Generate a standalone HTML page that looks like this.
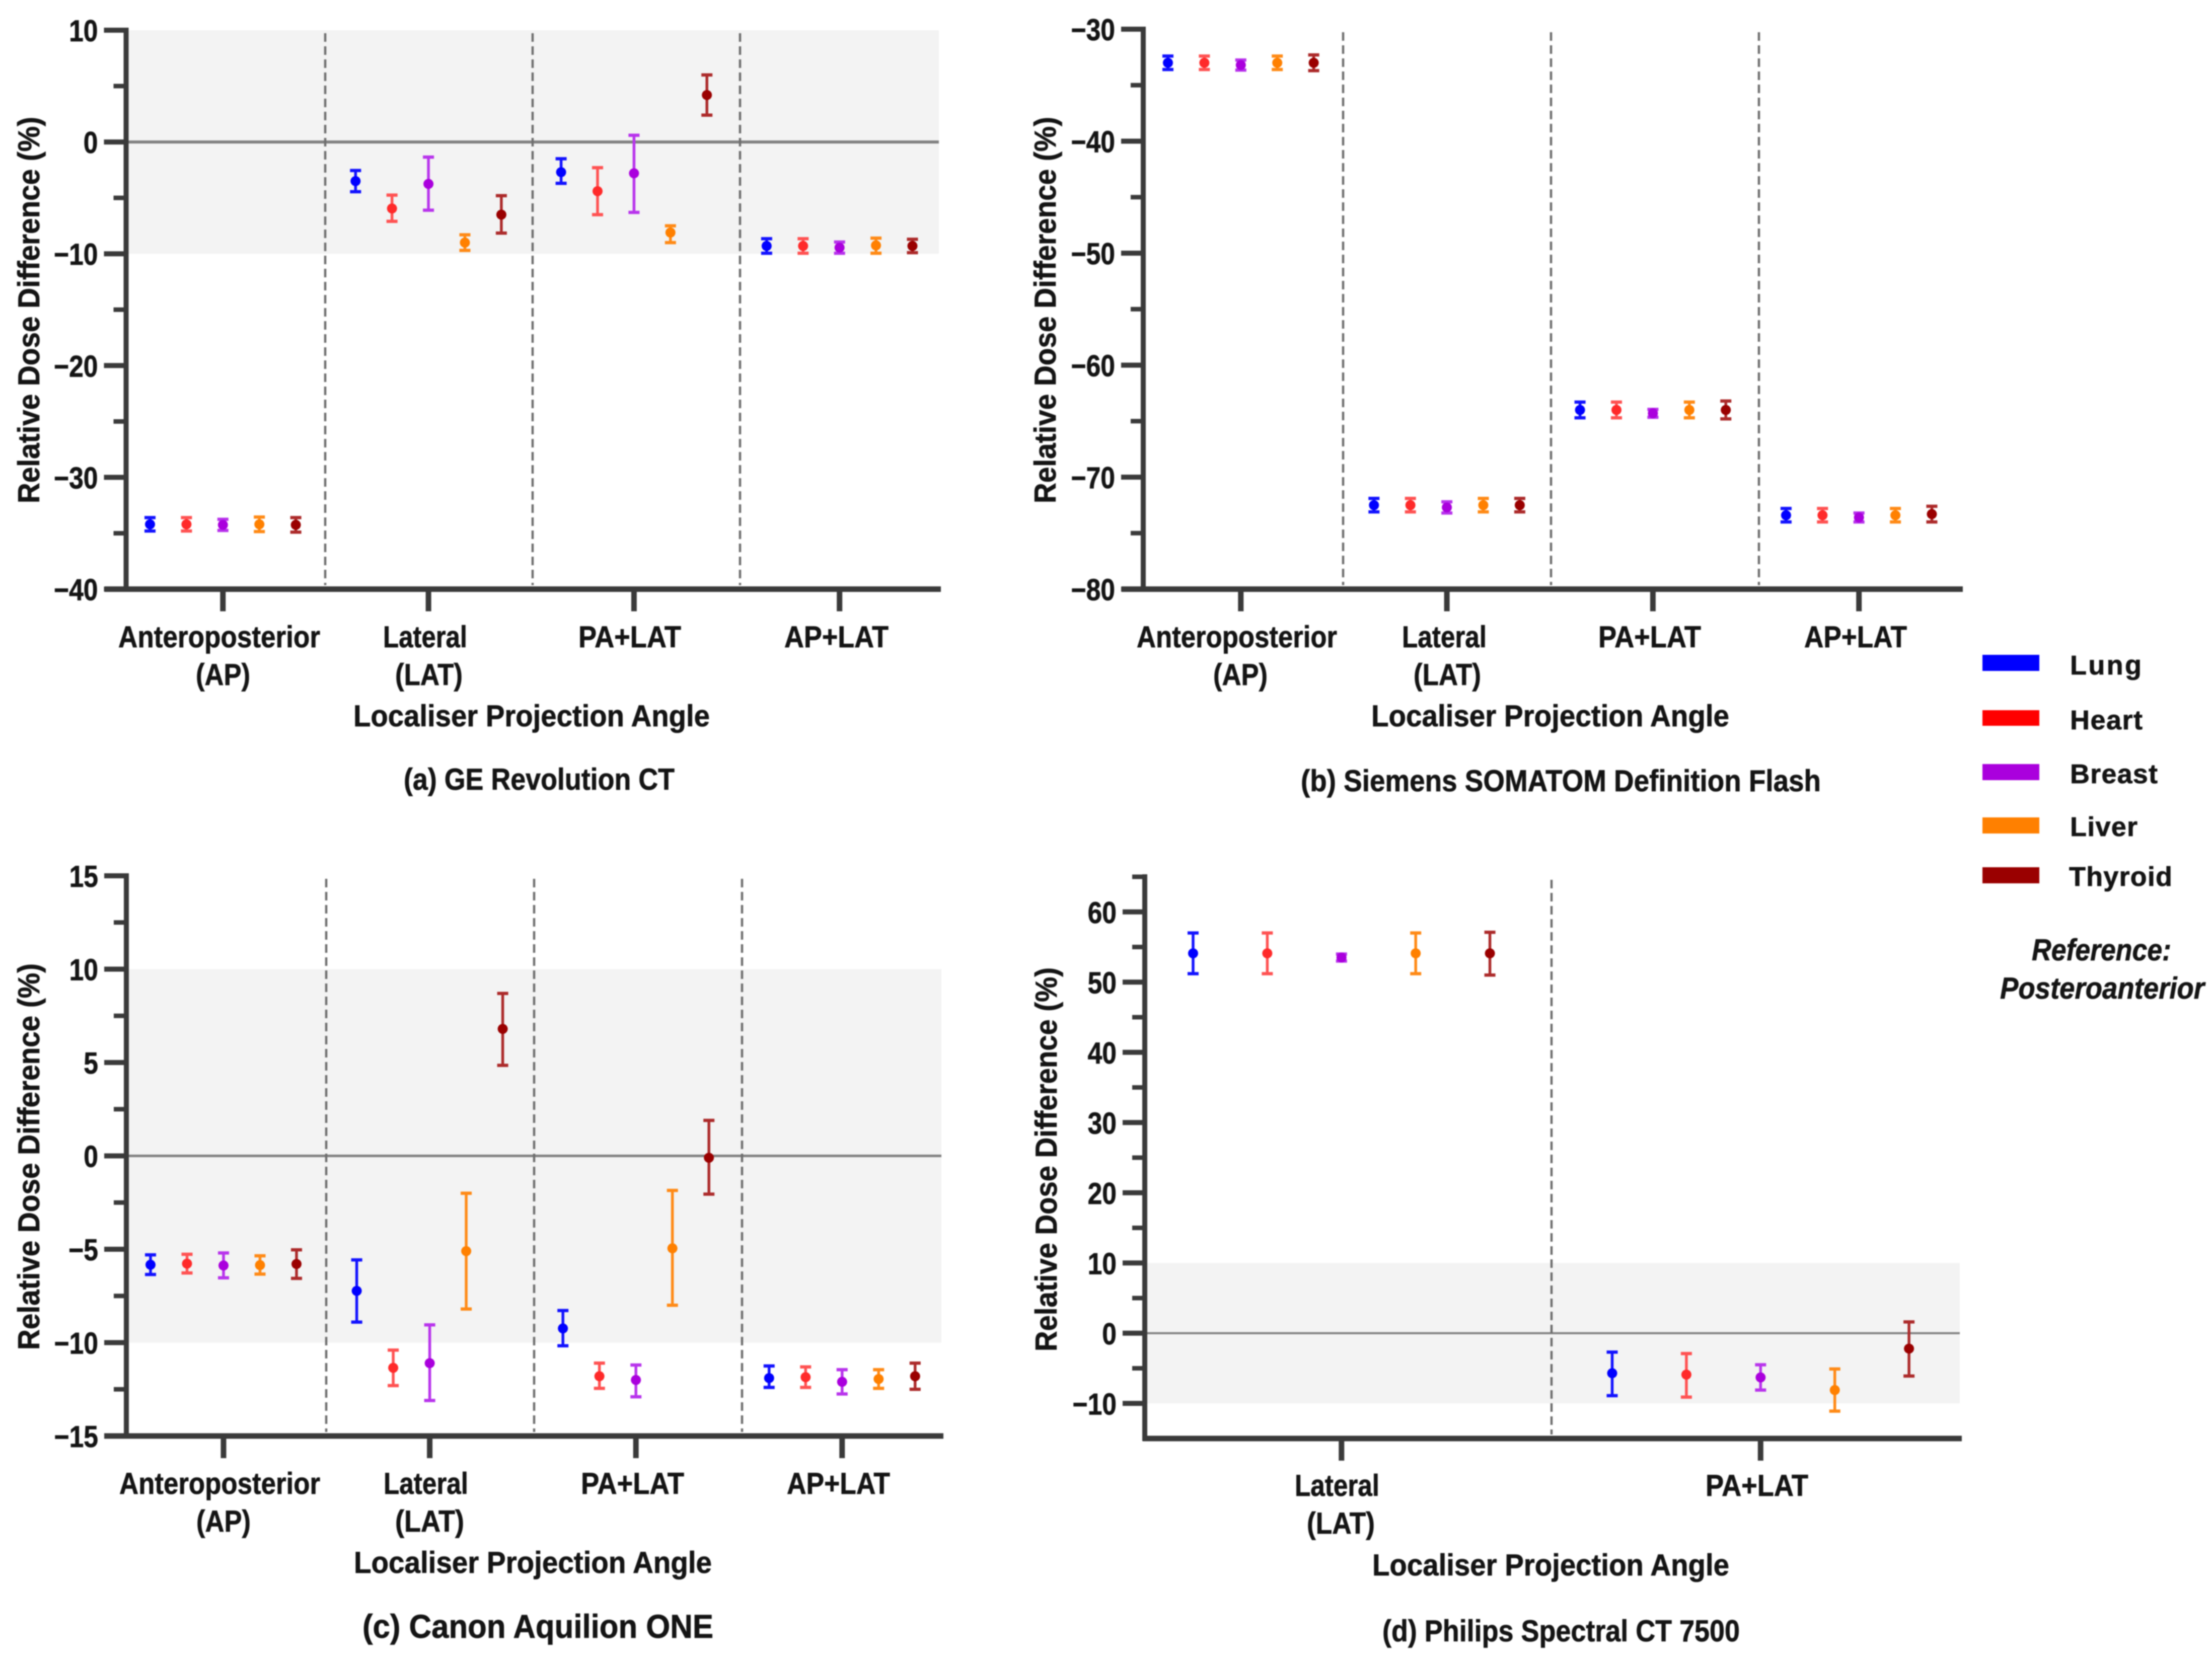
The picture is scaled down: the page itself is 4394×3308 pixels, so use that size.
<!DOCTYPE html>
<html lang="en">
<head>
<meta charset="utf-8">
<title>Relative Dose Difference by Localiser Projection Angle</title>
<style>
html,body{margin:0;padding:0;background:#fff;width:4394px;height:3308px;overflow:hidden}
svg{display:block;filter:blur(1.3px)}
text{font-family:"Liberation Sans",sans-serif;font-weight:700;font-size:60px;fill:#141414;stroke:#141414;stroke-width:0.8px}
.it{font-style:italic}
.cap{font-size:60px}
</style>
</head>
<body>
<svg id="figure" xmlns="http://www.w3.org/2000/svg" width="4394" height="3308" viewBox="0 0 4394 3308">
<rect x="0" y="0" width="4394" height="3308" fill="#ffffff"/>

<g id="plot-a"></g>
<g id="plot-b"></g>
<g id="plot-c"></g>
<g id="plot-d"></g>

<!-- Panel a text -->
<text transform="translate(78,1000) rotate(-90)" textLength="768" lengthAdjust="spacingAndGlyphs">Relative Dose Difference (%)</text>
<text x="235" y="1286" textLength="401" lengthAdjust="spacingAndGlyphs">Anteroposterior</text>
<text x="389" y="1361" textLength="108" lengthAdjust="spacingAndGlyphs">(AP)</text>
<text x="761" y="1286" textLength="167" lengthAdjust="spacingAndGlyphs">Lateral</text>
<text x="785" y="1361" textLength="134" lengthAdjust="spacingAndGlyphs">(LAT)</text>
<text x="1149" y="1286" textLength="204" lengthAdjust="spacingAndGlyphs">PA+LAT</text>
<text x="1558" y="1286" textLength="207" lengthAdjust="spacingAndGlyphs">AP+LAT</text>
<text x="702" y="1443" textLength="708" lengthAdjust="spacingAndGlyphs">Localiser Projection Angle</text>
<text x="802" y="1569" textLength="538" lengthAdjust="spacingAndGlyphs">(a) GE Revolution CT</text>

<!-- Panel b text -->
<text transform="translate(2097,1000) rotate(-90)" textLength="768" lengthAdjust="spacingAndGlyphs">Relative Dose Difference (%)</text>
<text x="2258" y="1286" textLength="398" lengthAdjust="spacingAndGlyphs">Anteroposterior</text>
<text x="2410" y="1361" textLength="108" lengthAdjust="spacingAndGlyphs">(AP)</text>
<text x="2785" y="1286" textLength="168" lengthAdjust="spacingAndGlyphs">Lateral</text>
<text x="2808" y="1361" textLength="134" lengthAdjust="spacingAndGlyphs">(LAT)</text>
<text x="3175" y="1286" textLength="204" lengthAdjust="spacingAndGlyphs">PA+LAT</text>
<text x="3584" y="1286" textLength="204" lengthAdjust="spacingAndGlyphs">AP+LAT</text>
<text x="2724" y="1443" textLength="711" lengthAdjust="spacingAndGlyphs">Localiser Projection Angle</text>
<text x="2584" y="1572" textLength="1033" lengthAdjust="spacingAndGlyphs">(b) Siemens SOMATOM Definition Flash</text>

<!-- Panel c text -->
<text transform="translate(78,2682) rotate(-90)" textLength="768" lengthAdjust="spacingAndGlyphs">Relative Dose Difference (%)</text>
<text x="237" y="2968" textLength="399" lengthAdjust="spacingAndGlyphs">Anteroposterior</text>
<text x="390" y="3043" textLength="108" lengthAdjust="spacingAndGlyphs">(AP)</text>
<text x="762" y="2968" textLength="168" lengthAdjust="spacingAndGlyphs">Lateral</text>
<text x="785" y="3043" textLength="137" lengthAdjust="spacingAndGlyphs">(LAT)</text>
<text x="1154" y="2968" textLength="205" lengthAdjust="spacingAndGlyphs">PA+LAT</text>
<text x="1563" y="2968" textLength="205" lengthAdjust="spacingAndGlyphs">AP+LAT</text>
<text x="703" y="3125" textLength="711" lengthAdjust="spacingAndGlyphs">Localiser Projection Angle</text>
<text x="720" y="3254" textLength="697" lengthAdjust="spacingAndGlyphs" style="font-size:66px">(c) Canon Aquilion ONE</text>

<!-- Panel d text -->
<text transform="translate(2099,2685) rotate(-90)" textLength="763" lengthAdjust="spacingAndGlyphs">Relative Dose Difference (%)</text>
<text x="2572" y="2972" textLength="168" lengthAdjust="spacingAndGlyphs">Lateral</text>
<text x="2596" y="3047" textLength="135" lengthAdjust="spacingAndGlyphs">(LAT)</text>
<text x="3388" y="2972" textLength="204" lengthAdjust="spacingAndGlyphs">PA+LAT</text>
<text x="2726" y="3130" textLength="709" lengthAdjust="spacingAndGlyphs">Localiser Projection Angle</text>
<text x="2746" y="3261" textLength="710" lengthAdjust="spacingAndGlyphs">(d) Philips Spectral CT 7500</text>

<!-- Legend -->
<g>
  <rect x="3938" y="1301" width="113" height="32" fill="#0000ff"/>
  <text x="4112" y="1340" textLength="142" lengthAdjust="spacing" style="font-size:54px">Lung</text>
  <rect x="3938" y="1411" width="113" height="31" fill="#ff0000"/>
  <text x="4112" y="1449" textLength="144" lengthAdjust="spacing" style="font-size:54px">Heart</text>
  <rect x="3938" y="1518" width="113" height="32" fill="#aa00dd"/>
  <text x="4112" y="1556" textLength="174" lengthAdjust="spacing" style="font-size:54px">Breast</text>
  <rect x="3938" y="1624" width="113" height="32" fill="#ff8000"/>
  <text x="4112" y="1661" textLength="134" lengthAdjust="spacing" style="font-size:54px">Liver</text>
  <rect x="3938" y="1723" width="113" height="32" fill="#9a0000"/>
  <text x="4110" y="1760" textLength="205" lengthAdjust="spacing" style="font-size:54px">Thyroid</text>
  <text class="it" x="4036" y="1908" textLength="277" lengthAdjust="spacingAndGlyphs">Reference:</text>
  <text class="it" x="3973" y="1984" textLength="406" lengthAdjust="spacingAndGlyphs">Posteroanterior</text>
</g>
</svg>

<script>
// Organ series shared by all panels
const organs = ['lung', 'heart', 'breast', 'liver', 'thyroid'];
const barColors = ['#1212ff', '#ff5252', '#b834ec', '#ff8a16', '#ac2a2a'];
const markColors = ['#0000ff', '#ff2a2a', '#aa00dd', '#ff8000', '#9a0000'];

// Panel a: GE Revolution CT. Each row is one projection, each column one organ.
const aMajorTicks = [10, 0, -10, -20, -30, -40];
const aMinorTicks = [5, -5, -15, -25, -35];
const aTickLabels = ['10', '0', '\u221210', '\u221220', '\u221230', '\u221240'];
const aMeans = [
  [-34.2, -34.2, -34.25, -34.2, -34.25],
  [-3.5, -5.95, -3.75, -9.0, -6.5],
  [-2.7, -4.4, -2.8, -8.1, 4.2],
  [-9.3, -9.3, -9.45, -9.25, -9.3]
];
const aLows = [
  [-34.8, -34.8, -34.75, -34.85, -34.9],
  [-4.45, -7.1, -6.1, -9.7, -8.15],
  [-3.7, -6.5, -6.3, -9.0, 2.4],
  [-9.95, -9.95, -9.95, -9.95, -9.9]
];
const aHighs = [
  [-33.6, -33.6, -33.75, -33.55, -33.6],
  [-2.55, -4.75, -1.35, -8.3, -4.8],
  [-1.5, -2.3, 0.6, -7.5, 6.0],
  [-8.65, -8.65, -8.95, -8.6, -8.7]
];

// Panel b: Siemens SOMATOM Definition Flash
const bMajorTicks = [-30, -40, -50, -60, -70, -80];
const bMinorTicks = [-35, -45, -55, -65, -75];
const bTickLabels = ['\u221230', '\u221240', '\u221250', '\u221260', '\u221270', '\u221280'];
const bMeans = [
  [-33.0, -33.0, -33.2, -33.0, -33.0],
  [-72.5, -72.5, -72.7, -72.5, -72.5],
  [-64.0, -64.0, -64.3, -64.0, -64.0],
  [-73.4, -73.4, -73.6, -73.4, -73.3]
];
const bLows = [
  [-33.6, -33.6, -33.65, -33.6, -33.7],
  [-73.1, -73.1, -73.2, -73.1, -73.1],
  [-64.7, -64.7, -64.65, -64.7, -64.8],
  [-74.0, -74.0, -74.0, -74.0, -74.0]
];
const bHighs = [
  [-32.4, -32.4, -32.75, -32.4, -32.3],
  [-71.9, -71.9, -72.2, -71.9, -71.9],
  [-63.3, -63.3, -63.95, -63.3, -63.2],
  [-72.8, -72.8, -73.2, -72.8, -72.6]
];

// Panel c: Canon Aquilion ONE
const cMajorTicks = [15, 10, 5, 0, -5, -10, -15];
const cMinorTicks = [12.5, 7.5, 2.5, -2.5, -7.5, -12.5];
const cTickLabels = ['15', '10', '5', '0', '\u22125', '\u221210', '\u221215'];
const cMeans = [
  [-5.83, -5.77, -5.87, -5.85, -5.79],
  [-7.23, -11.35, -11.1, -5.1, 6.8],
  [-9.24, -11.8, -12.0, -4.95, -0.1],
  [-11.9, -11.85, -12.1, -11.95, -11.8]
];
const cLows = [
  [-6.35, -6.27, -6.53, -6.33, -6.56],
  [-8.9, -12.3, -13.1, -8.2, 4.85],
  [-10.17, -12.45, -12.9, -8.0, -2.05],
  [-12.4, -12.4, -12.75, -12.45, -12.5]
];
const cHighs = [
  [-5.3, -5.27, -5.2, -5.35, -5.03],
  [-5.57, -10.4, -9.05, -2.0, 8.7],
  [-8.28, -11.1, -11.2, -1.85, 1.9],
  [-11.25, -11.3, -11.45, -11.45, -11.1]
];

// Panel d: Philips Spectral CT 7500
const dMajorTicks = [60, 50, 40, 30, 20, 10, 0, -10];
const dMinorTicks = [65, 55, 45, 35, 25, 15, 5, -5];
const dTickLabels = ['60', '50', '40', '30', '20', '10', '0', '\u221210'];
const dMeans = [
  [54.1, 54.1, 53.5, 54.1, 54.1],
  [-5.7, -5.9, -6.3, -8.1, -2.2]
];
const dLows = [
  [51.2, 51.2, 53.0, 51.2, 51.0],
  [-8.9, -9.1, -8.1, -11.1, -6.1]
];
const dHighs = [
  [57.0, 57.0, 54.0, 57.0, 57.1],
  [-2.7, -2.9, -4.5, -5.1, 1.6]
];

const SVGNS = 'http://www.w3.org/2000/svg';
const AXIS = '#3a3a3a';

function line(parent, x1, y1, x2, y2, color, width) {
  const el = document.createElementNS(SVGNS, 'line');
  el.setAttribute('x1', x1);
  el.setAttribute('y1', y1);
  el.setAttribute('x2', x2);
  el.setAttribute('y2', y2);
  el.setAttribute('stroke', color);
  el.setAttribute('stroke-width', width);
  parent.appendChild(el);
  return el;
}

function drawPanel(cfg) {
  const root = document.getElementById(cfg.id);
  const y = v => cfg.top + (cfg.vMax - v) * (cfg.bottom - cfg.top) / (cfg.vMax - cfg.vMin);
  const groupX = g => cfg.firstX + g * cfg.groupStep;
  const pointX = (g, o) => groupX(g) + o * cfg.pointStep;

  // Acceptance band
  const bandTop = Math.min(10, cfg.vMax);
  const band = document.createElementNS(SVGNS, 'rect');
  band.setAttribute('x', cfg.axisX);
  band.setAttribute('y', y(bandTop));
  band.setAttribute('width', cfg.right - cfg.axisX);
  band.setAttribute('height', y(Math.max(-10, cfg.vMin)) - y(bandTop));
  band.setAttribute('fill', '#f3f3f3');
  
  
  root.appendChild(band);

  // Zero reference line
  if (cfg.vMax >= 0 && cfg.vMin <= 0) {
    const zero = line(root, cfg.axisX, y(0), cfg.right, y(0), '#808080', cfg.zeroWidth);
    
    
  }

  // Dashed separators between projections
  for (let g = 0; g < cfg.means.length - 1; g++) {
    const dx = cfg.dashStart + g * cfg.dashStep;
    const sep = line(root, dx, cfg.top + 6, dx, cfg.bottom - 8, '#6e6e6e', 4.5);
    sep.setAttribute('stroke-dasharray', '17 9');
    
    
  }

  // Error bars with mean markers
  cfg.means.forEach((row, g) => {
    row.forEach((mean, o) => {
      const px = pointX(g, o);
      const mark = document.createElementNS(SVGNS, 'g');
      
      
      const low = y(cfg.lows[g][o]);
      const high = y(cfg.highs[g][o]);
      line(mark, px, low, px, high, barColors[o], 5.5);
      line(mark, px - 11, low, px + 11, low, barColors[o], 6.5);
      line(mark, px - 11, high, px + 11, high, barColors[o], 6.5);
      const dot = document.createElementNS(SVGNS, 'circle');
      dot.setAttribute('cx', px);
      dot.setAttribute('cy', y(mean));
      dot.setAttribute('r', 10);
      dot.setAttribute('fill', markColors[o]);
      mark.appendChild(dot);
      root.appendChild(mark);
    });
  });

  // Y axis
  const yAxis = line(root, cfg.axisX, cfg.top - 5, cfg.axisX, cfg.bottom + 5, AXIS, 10);
  
  

  cfg.major.forEach((v, i) => {
    const t = line(root, cfg.axisX - 44, y(v), cfg.axisX, y(v), AXIS, 10);
    
    
    const lab = document.createElementNS(SVGNS, 'text');
    lab.setAttribute('text-anchor', 'end');
    lab.setAttribute('transform', 'translate(' + (cfg.axisX - 56) + ',' + (y(v) + 22) + ') scale(0.86,1)');
    lab.textContent = cfg.labels[i];
    
    
    root.appendChild(lab);
  });
  cfg.minor.forEach(v => {
    const t = line(root, cfg.axisX - 25, y(v), cfg.axisX, y(v), AXIS, 9);
    
    
  });

  // X axis
  const xAxis = line(root, cfg.xAxisLeft, cfg.bottom, cfg.right + 4, cfg.bottom, AXIS, 11);
  
  
  cfg.means.forEach((row, g) => {
    const tx = pointX(g, 2);
    const t = line(root, tx, cfg.bottom, tx, cfg.bottom + 44, AXIS, 11);
    
    
  });
}

drawPanel({
  id: 'plot-a', means: aMeans, lows: aLows, highs: aHighs,
  major: aMajorTicks, minor: aMinorTicks, labels: aTickLabels,
  vMax: 10, vMin: -40, top: 60, bottom: 1170.5, axisX: 250.5, xAxisLeft: 208, right: 1865,
  firstX: 298, pointStep: 72.4, groupStep: 408.3,
  dashStart: 646, dashStep: 412, zeroWidth: 6
});
drawPanel({
  id: 'plot-b', means: bMeans, lows: bLows, highs: bHighs,
  major: bMajorTicks, minor: bMinorTicks, labels: bTickLabels,
  vMax: -30, vMin: -80, top: 58, bottom: 1170.5, axisX: 2271, xAxisLeft: 2228, right: 3895,
  firstX: 2320, pointStep: 72.4, groupStep: 409.3,
  dashStart: 2668, dashStep: 413, zeroWidth: 6
});
drawPanel({
  id: 'plot-c', means: cMeans, lows: cLows, highs: cHighs,
  major: cMajorTicks, minor: cMinorTicks, labels: cTickLabels,
  vMax: 15, vMin: -15, top: 1740, bottom: 2853, axisX: 251, xAxisLeft: 207, right: 1870,
  firstX: 299, pointStep: 72.5, groupStep: 409.6,
  dashStart: 648, dashStep: 413, zeroWidth: 5
});
drawPanel({
  id: 'plot-d', means: dMeans, lows: dLows, highs: dHighs,
  major: dMajorTicks, minor: dMinorTicks, labels: dTickLabels,
  vMax: 65, vMin: -15, top: 1742, bottom: 2858, axisX: 2274, xAxisLeft: 2270, right: 3893,
  firstX: 2370, pointStep: 147.4, groupStep: 832.5,
  dashStart: 3082, dashStep: 413, zeroWidth: 4
});
</script>
</body>
</html>
